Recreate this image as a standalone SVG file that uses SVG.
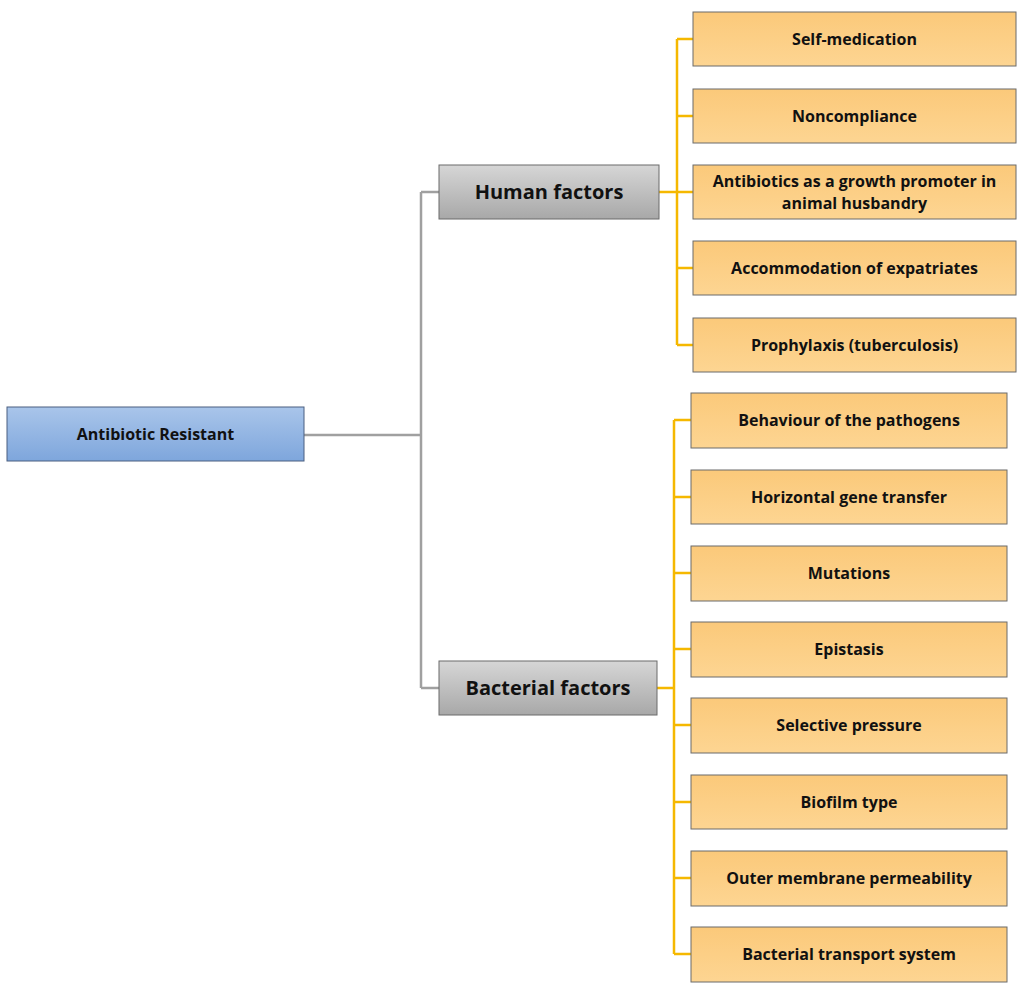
<svg xmlns="http://www.w3.org/2000/svg" width="1024" height="1001" viewBox="0 0 1024 1001">
<defs>
<linearGradient id="gBlue" x1="0" y1="0" x2="0" y2="1"><stop offset="0" stop-color="#a9c5ea"/><stop offset="1" stop-color="#7ea6dc"/></linearGradient>
<linearGradient id="gGray" x1="0" y1="0" x2="0" y2="1"><stop offset="0" stop-color="#d6d6d6"/><stop offset="1" stop-color="#a8a8a8"/></linearGradient>
<linearGradient id="gOr" x1="0" y1="0" x2="0" y2="1"><stop offset="0" stop-color="#fbc97a"/><stop offset="1" stop-color="#fdd592"/></linearGradient>
</defs>
<style>
text{font-family:"Open Sans","Liberation Sans",sans-serif;font-weight:bold;fill:#111;text-anchor:middle;dominant-baseline:central}
.c{fill:url(#gOr);stroke:#6b6b6b;stroke-width:1}
.c+text{font-size:16px}
.g{fill:url(#gGray);stroke:#6b6b6b;stroke-width:1}
.g+text{font-size:20px}
.gl{stroke:#a0a0a0;stroke-width:2.5;fill:none}
.yl{stroke:#f5b800;stroke-width:2.5;fill:none}
</style>
<rect width="1024" height="1001" fill="#fff"/>
<g id="connectors">
<path class="gl" d="M304 435H421M421 192V688M421 192H439M421 688H439"/>
<path class="yl" d="M659 192H677M677 39V345M677 39H693M677 116H693M677 192H693M677 268H693M677 345H693"/>
<path class="yl" d="M657 688H674M674 420V954M674 420H691M674 497H691M674 573H691M674 649H691M674 725H691M674 802H691M674 878H691M674 954H691"/>
</g>
<g id="root"><rect x="7" y="407" width="297" height="54" fill="url(#gBlue)" stroke="#4a5f80"/><text x="155.5" y="434" font-size="16">Antibiotic Resistant</text></g>
<g id="human"><rect class="g" x="439" y="165" width="220" height="54"/><text x="549" y="191">Human factors</text></g>
<g id="bacterial"><rect class="g" x="439" y="661" width="218" height="54"/><text x="548" y="687">Bacterial factors</text></g>
<g id="h1"><rect class="c" x="693" y="12" width="323" height="54"/><text x="854.5" y="39">Self-medication</text></g>
<g id="h2"><rect class="c" x="693" y="89" width="323" height="54"/><text x="854.5" y="116">Noncompliance</text></g>
<g id="h3"><rect class="c" x="693" y="165" width="323" height="54"/><text x="854.5" y="181">Antibiotics as a growth promoter in</text><text x="854.5" y="203" font-size="16">animal husbandry</text></g>
<g id="h4"><rect class="c" x="693" y="241" width="323" height="54"/><text x="854.5" y="268">Accommodation of expatriates</text></g>
<g id="h5"><rect class="c" x="693" y="318" width="323" height="54"/><text x="854.5" y="345">Prophylaxis (tuberculosis)</text></g>
<g id="b1"><rect class="c" x="691" y="393" width="316" height="55"/><text x="849" y="420">Behaviour of the pathogens</text></g>
<g id="b2"><rect class="c" x="691" y="470" width="316" height="54"/><text x="849" y="497">Horizontal gene transfer</text></g>
<g id="b3"><rect class="c" x="691" y="546" width="316" height="55"/><text x="849" y="573">Mutations</text></g>
<g id="b4"><rect class="c" x="691" y="622" width="316" height="55"/><text x="849" y="649">Epistasis</text></g>
<g id="b5"><rect class="c" x="691" y="698" width="316" height="55"/><text x="849" y="725">Selective pressure</text></g>
<g id="b6"><rect class="c" x="691" y="775" width="316" height="54"/><text x="849" y="802">Biofilm type</text></g>
<g id="b7"><rect class="c" x="691" y="851" width="316" height="55"/><text x="849" y="878">Outer membrane permeability</text></g>
<g id="b8"><rect class="c" x="691" y="927" width="316" height="55"/><text x="849" y="954">Bacterial transport system</text></g>
</svg>
